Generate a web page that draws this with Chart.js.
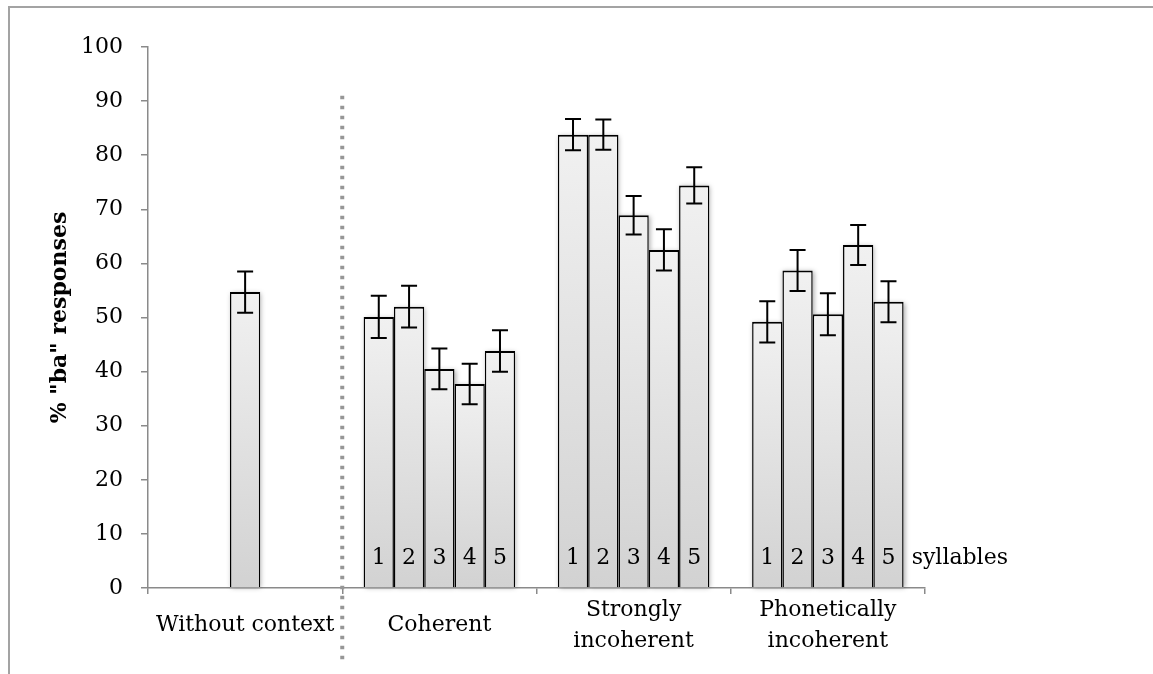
<!DOCTYPE html>
<html>
<head>
<meta charset="utf-8">
<script src="https://cdn.jsdelivr.net/npm/chart.js@4/dist/chart.umd.min.js"></script>
<style>
  html, body { margin: 0; padding: 0; background: #fff; }
  #frame { position: absolute; left: 8px; top: 6px; width: 1300px; height: 800px;
           border-left: 2px solid #a3a3a3; border-top: 2px solid #a3a3a3; }
  #chartBa { position: absolute; left: 0; top: 0; }
</style>
</head>
<body>
<div id="frame"></div>
<canvas id="chartBa" width="1153" height="674"></canvas>
<script>
// categories on the x axis
var categories = ['Without context', 'Coherent', ['Strongly', 'incoherent'], ['Phonetically', 'incoherent']];
var syllableLabels = ['1', '2', '3', '4', '5'];

// % "ba" responses per number of syllables (null = no bar)
var syl1 = [null, 50.1, 83.8, 49.2];
var syl2 = [null, 52.0, 83.8, 58.7];
var syl3 = [54.7, 40.5, 68.9, 50.6];
var syl4 = [null, 37.7, 62.5, 63.4];
var syl5 = [null, 43.8, 74.4, 52.9];

// error bar half-lengths
var err1 = [null, 3.9, 2.9, 3.8];
var err2 = [null, 3.85, 2.8, 3.8];
var err3 = [3.8, 3.75, 3.55, 3.9];
var err4 = [null, 3.75, 3.8, 3.7];
var err5 = [null, 3.85, 3.35, 3.8];

var yTicks = [0, 10, 20, 30, 40, 50, 60, 70, 80, 90, 100];

var values = [syl1, syl2, syl3, syl4, syl5];
var errors = [err1, err2, err3, err4, err5];

var FONT = "'DejaVu Serif', serif";
Chart.defaults.font.family = FONT;
Chart.defaults.font.size = 22;
Chart.defaults.color = '#000';

function barFill(ctx) {
	var chart = ctx.chart;
	if (!chart.chartArea || ctx.raw == null) return '#e4e4e4';
	var top = chart.scales.y.getPixelForValue(ctx.raw);
	var g = chart.ctx.createLinearGradient(0, top, 0, chart.chartArea.bottom);
	g.addColorStop(0, '#f1f1f1');
	g.addColorStop(1, '#d2d2d2');
	return g;
}

var datasets = values.map(function(v, i) {
	return {
		label: syllableLabels[i],
		data: v,
		errors: errors[i],
		backgroundColor: barFill,
		borderColor: '#000',
		borderWidth: { top: 2, left: 1.5, right: 1.5, bottom: 0 },
		borderSkipped: 'start'
	};
});

var extras = {
	id: 'extras',
	beforeDatasetsDraw: function(chart) {
		// soft shadow behind the bars
		var c = chart.ctx;
		c.save();
		c.shadowColor = 'rgba(0,0,0,0.35)';
		c.shadowBlur = 5;
		c.shadowOffsetX = 1;
		c.shadowOffsetY = 1;
		c.fillStyle = '#fff';
		chart.data.datasets.forEach(function(ds, i) {
			chart.getDatasetMeta(i).data.forEach(function(bar, j) {
				if (ds.data[j] == null) return;
				c.fillRect(bar.x - bar.width / 2, bar.y, bar.width, bar.base - bar.y);
			});
		});
		c.restore();
	},
	afterDatasetsDraw: function(chart) {
		var c = chart.ctx, y = chart.scales.y, x = chart.scales.x;
		c.save();

		// dotted separator after "Without context"
		var sx = x.getPixelForValue(0.5);
		c.strokeStyle = '#969696';
		c.lineWidth = 4;
		c.setLineDash([3.5, 6.5]);
		c.beginPath();
		c.moveTo(sx, y.getPixelForValue(91));
		c.lineTo(sx, 662);
		c.stroke();
		c.setLineDash([]);

		// error bars
		c.strokeStyle = '#000';
		c.lineWidth = 2;
		chart.data.datasets.forEach(function(ds, i) {
			chart.getDatasetMeta(i).data.forEach(function(bar, j) {
				var v = ds.data[j], e = ds.errors[j];
				if (v == null) return;
				var t = y.getPixelForValue(v + e), b = y.getPixelForValue(v - e);
				c.beginPath();
				c.moveTo(bar.x, t); c.lineTo(bar.x, b);
				c.moveTo(bar.x - 8, t); c.lineTo(bar.x + 8, t);
				c.moveTo(bar.x - 8, b); c.lineTo(bar.x + 8, b);
				c.stroke();
			});
		});

		// syllable numbers inside the bars
		c.fillStyle = '#000';
		c.font = '22px ' + FONT;
		c.textAlign = 'center';
		c.textBaseline = 'middle';
		var ny = y.getPixelForValue(5.5);
		chart.data.datasets.forEach(function(ds, i) {
			var meta = chart.getDatasetMeta(i);
			for (var j = 1; j < categories.length; j++) {
				c.fillText(ds.label, meta.data[j].x, ny);
			}
		});
		var last = chart.getDatasetMeta(4).data[3];
		c.textAlign = 'left';
		c.fillText('syllables', last.x + last.width / 2 + 8, ny);
		c.restore();
	}
};

var chart = new Chart(document.getElementById('chartBa').getContext('2d'), {
	type: 'bar',
	data: { labels: categories, datasets: datasets },
	plugins: [extras],
	options: {
		responsive: false,
		animation: false,
		devicePixelRatio: 1,
		layout: { padding: { left: 0, top: 47, right: 228, bottom: 0 } },
		datasets: { bar: { categoryPercentage: 0.78, barPercentage: 1.0 } },
		plugins: { legend: { display: false }, tooltip: { enabled: false } },
		scales: {
			x: {
				grid: { drawOnChartArea: false, tickLength: 6, color: '#8a8a8a', lineWidth: 1.5 },
				border: { color: '#8a8a8a', width: 1.5 },
				ticks: { padding: 16, maxRotation: 0, autoSkip: false, crossAlign: 'center',
					font: { size: 22, lineHeight: 1.4 } },
				afterFit: function(s) { s.height = 86; }
			},
			y: {
				min: 0,
				max: 100,
				afterBuildTicks: function(s) { s.ticks = yTicks.map(function(v) { return { value: v }; }); },
				grid: { drawOnChartArea: false, tickLength: 7, color: '#8a8a8a', lineWidth: 1.5 },
				border: { color: '#8a8a8a', width: 1.5 },
				ticks: { padding: 18 },
				title: {
					display: true,
					text: '% "ba" responses',
					font: { size: 22, weight: 'bold' },
					padding: { top: 47, bottom: 0 }
				},
				afterFit: function(s) { s.width = 148; }
			}
		}
	}
});
</script>
</body>
</html>
